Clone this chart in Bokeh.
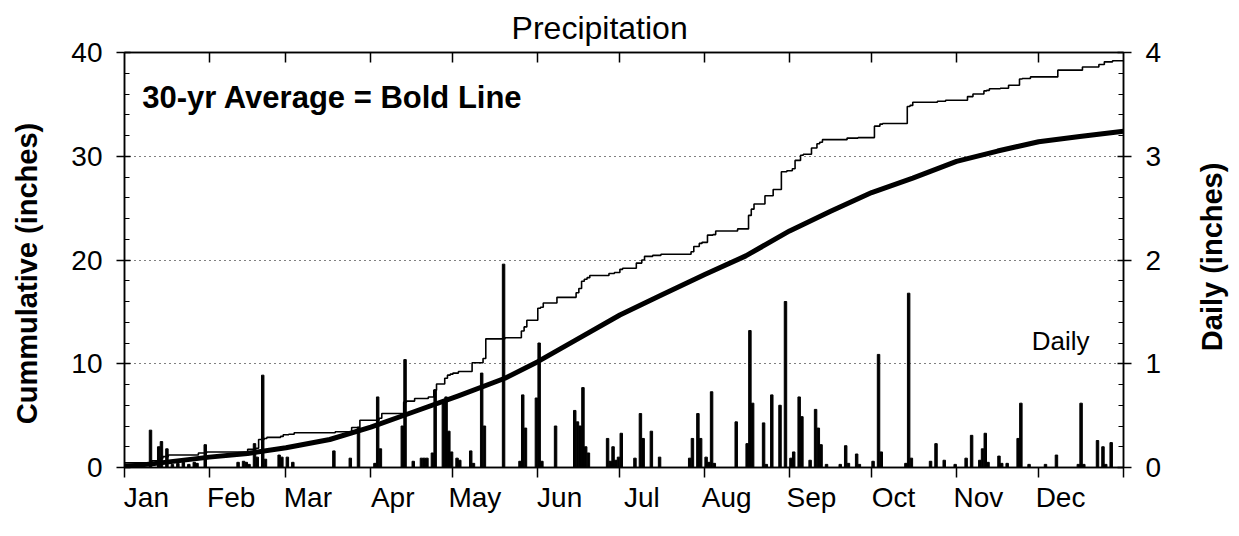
import math
from bokeh.plotting import figure
from bokeh.models import Range1d, LinearAxis, FixedTicker, Label
from bokeh.embed import file_html
from bokeh.resources import INLINE

FONT = "Liberation Sans"

# ---- data ----
months = ["Jan", "Feb", "Mar", "Apr", "May", "Jun", "Jul", "Aug", "Sep", "Oct", "Nov", "Dec"]
month_start = [0, 31, 59, 90, 120, 151, 181, 212, 243, 273, 304, 334]

# daily precipitation (day of year, inches)
daily_day = [10, 13, 14, 16, 18, 20, 22, 24, 26, 27, 30,
             42, 44, 45, 46, 48, 49, 51, 52, 57, 58,
             60, 62, 77, 83, 86,
             92, 93, 94, 102, 103, 106, 109, 110, 111, 113, 114, 117, 118, 119, 120,
             122, 123, 127, 128, 131, 132, 139, 145, 146, 147,
             151, 152, 153, 158, 165, 166, 167, 168, 169, 170, 177, 178, 179, 180,
             181, 182, 187, 189, 190, 193, 196, 207, 208, 210, 211,
             213, 214, 215, 216, 224, 228, 229, 230, 234, 235, 237, 240, 242,
             244, 245, 247, 248, 251, 253, 254, 255, 257, 262, 264, 265, 268, 269,
             274, 276, 277, 286, 287, 288, 295, 297, 300, 304,
             308, 310, 313, 314, 315, 316, 320, 321, 323, 327, 328, 331,
             337, 341, 349, 350, 351, 356, 358, 359, 361]
daily_in = [0.36, 0.20, 0.25, 0.18, 0.03, 0.04, 0.05, 0.03, 0.05, 0.04, 0.22,
            0.05, 0.06, 0.05, 0.03, 0.23, 0.10, 0.89, 0.08, 0.12, 0.10,
            0.10, 0.05, 0.16, 0.09, 0.39,
            0.04, 0.68, 0.18, 0.40, 1.04, 0.06, 0.09, 0.09, 0.09, 0.14, 0.75, 0.65, 0.68, 0.35, 0.15,
            0.09, 0.07, 0.16, 0.04, 0.91, 0.40, 1.96, 0.06, 0.70, 0.38,
            0.67, 1.20, 0.06, 0.40, 0.55, 0.44, 0.40, 0.77, 0.20, 0.14, 0.28, 0.06, 0.20, 0.07,
            0.10, 0.33, 0.09, 0.52, 0.28, 0.35, 0.10, 0.09, 0.28, 0.52, 0.28,
            0.10, 0.05, 0.73, 0.04, 0.44, 0.23, 1.32, 0.62, 0.43, 0.03, 0.70, 0.60, 1.60,
            0.09, 0.15, 0.68, 0.49, 0.07, 0.56, 0.38, 0.22, 0.03, 0.03, 0.21, 0.04, 0.13, 0.03,
            0.06, 1.09, 0.15, 0.04, 1.68, 0.09, 0.06, 0.23, 0.07, 0.03,
            0.09, 0.31, 0.07, 0.18, 0.33, 0.05, 0.11, 0.04, 0.04, 0.28, 0.62, 0.03,
            0.03, 0.12, 0.03, 0.62, 0.03, 0.26, 0.20, 0.03, 0.24]

# this year's cumulative total (thin line), read at its steps
thin_day = [0, 10, 13, 14, 16, 27, 30, 45, 48, 49, 51, 52, 57, 58, 60, 62, 77, 83, 86,
            93, 94, 102, 103, 106, 111, 113, 114, 117, 118, 119, 120, 122, 127, 131, 132,
            139, 145, 146, 147, 151, 152, 153, 158, 165, 166, 167, 168, 169, 170, 177, 179,
            181, 182, 187, 189, 190, 193, 196, 207, 208, 210, 211, 213, 215, 216, 224, 228,
            229, 230, 234, 237, 240, 242, 244, 245, 247, 248, 251, 253, 254, 255, 264, 268,
            274, 276, 277, 286, 287, 288, 297, 300, 308, 310, 314, 315, 316, 320, 323, 327,
            328, 331, 341, 350, 356, 358, 361, 365]
thin_cum = [0.1, 0.45, 0.65, 0.9, 1.05, 1.2, 1.4, 1.5, 1.75, 1.85, 2.7, 2.8, 2.9, 3.0, 3.15, 3.2, 3.35, 3.45, 3.85,
            4.55, 4.75, 5.2, 6.3, 6.4, 6.65, 6.8, 7.45, 8.05, 8.6, 8.9, 9.0, 9.1, 9.25, 10.1, 10.5,
            12.4, 12.5, 13.15, 13.55, 14.2, 15.35, 15.45, 15.85, 16.4, 16.85, 17.25, 17.95, 18.15, 18.3, 18.5, 18.7,
            18.8, 19.1, 19.2, 19.7, 20.0, 20.35, 20.45, 20.55, 20.8, 21.3, 21.6, 21.7, 22.4, 22.45, 22.8, 23.0,
            24.3, 24.9, 25.4, 26.2, 26.8, 28.5, 28.6, 28.8, 29.6, 30.1, 30.2, 30.8, 31.2, 31.35, 31.6, 31.75,
            31.8, 32.9, 33.1, 33.15, 34.8, 34.9, 35.2, 35.3, 35.4, 35.75, 36.0, 36.3, 36.35, 36.5, 36.55, 36.85,
            37.45, 37.5, 37.65, 38.3, 38.6, 38.85, 39.1, 39.2]

# 30-year average cumulative (bold line)
avg_day = [0, 10, 31, 45, 59, 75, 90, 105, 122, 139, 151, 165, 181, 196, 212, 227, 243, 258, 273, 288, 304, 319, 334, 349, 365]
avg_cum = [0.1, 0.35, 1.0, 1.35, 1.9, 2.7, 3.9, 5.3, 6.9, 8.6, 10.2, 12.3, 14.7, 16.6, 18.6, 20.4, 22.8, 24.7, 26.5, 27.9, 29.5, 30.5, 31.4, 31.9, 32.4]

# ---- figure ----
p = figure(width=1236, height=530, x_range=Range1d(0, 365), y_range=Range1d(0, 40),
           output_backend="svg", toolbar_location=None,
           min_border_left=124, min_border_right=113, min_border_top=52, min_border_bottom=63)
p.background_fill_color = "white"
p.border_fill_color = "white"
p.outline_line_color = "black"
p.outline_line_width = 1.5

p.extra_y_ranges = {"daily": Range1d(0, 4)}

# the built-in title is left empty; the chart title is a label in the top panel
p.title.text = ""
p.title.standoff = 0

# grid
p.xgrid.visible = False
p.ygrid.ticker = FixedTicker(ticks=[10, 20, 30])
p.ygrid.grid_line_color = "black"
p.ygrid.grid_line_dash = "1 4"
p.ygrid.grid_line_width = 1.2


def style_axis(ax):
    ax.major_label_text_font = FONT
    ax.major_label_text_font_size = "28px"
    ax.major_label_text_color = "black"
    ax.axis_line_color = "black"
    ax.major_tick_line_color = "black"
    ax.minor_tick_line_color = "black"
    ax.axis_line_width = 1.5
    ax.major_tick_line_width = 1.5
    ax.minor_tick_line_width = 1.2


# left axis
ya = p.yaxis[0]
ya.ticker = FixedTicker(ticks=[0, 10, 20, 30, 40], minor_ticks=list(range(0, 41, 2)))
style_axis(ya)
ya.major_label_standoff = 14
ya.major_tick_in = 6
ya.major_tick_out = 8
ya.minor_tick_in = 5
ya.minor_tick_out = 0

# right axis
ra = LinearAxis(y_range_name="daily",
                ticker=FixedTicker(ticks=[0, 1, 2, 3, 4], minor_ticks=[i / 5 for i in range(0, 21)]))
style_axis(ra)
ra.major_label_standoff = 14
ra.major_tick_in = 6
ra.major_tick_out = 8
ra.minor_tick_in = 5
ra.minor_tick_out = 0
p.add_layout(ra, "right")

# bottom axis: month boundaries as ticks, names just right of each boundary
label_pos = [s + 8 for s in month_start]
xa = p.xaxis[0]
xa.ticker = FixedTicker(ticks=label_pos, minor_ticks=month_start + [365])
xa.major_label_overrides = {lp: m for lp, m in zip(label_pos, months)}
style_axis(xa)
xa.major_label_standoff = 4
xa.major_tick_in = 0
xa.major_tick_out = 0
xa.minor_tick_in = 0
xa.minor_tick_out = 10
xa.minor_tick_line_width = 1.5

# top axis: inward month ticks, no labels
ta = LinearAxis(ticker=FixedTicker(ticks=month_start[1:]))
style_axis(ta)
ta.major_label_overrides = {s: "" for s in month_start[1:]}
ta.major_label_text_font_size = "0px"
ta.major_label_standoff = 0
ta.major_tick_in = 10
ta.major_tick_out = 0
ta.minor_tick_in = 0
ta.minor_tick_out = 0
p.add_layout(ta, "above")

# titles drawn in the side panels (so they are not clipped to the frame)
p.add_layout(Label(x=173.6, y=42.4, text="Precipitation", text_font=FONT,
                   text_font_size="32px", text_color="black",
                   text_align="center", text_baseline="alphabetic"), "above")
p.add_layout(Label(x=-35.8, y=18.7, text="Cummulative (inches)", angle=math.pi / 2,
                   text_font=FONT, text_font_size="29px", text_font_style="bold",
                   text_color="black", text_align="center", text_baseline="middle"), "left")
p.add_layout(Label(x=397.2, y=20.3, text="Daily (inches)", angle=math.pi / 2,
                   text_font=FONT, text_font_size="29px", text_font_style="bold",
                   text_color="black", text_align="center", text_baseline="middle"), "right")

# marks
p.vbar(x=[d - 0.5 for d in daily_day], top=daily_in, width=0.9, bottom=0,
       y_range_name="daily", fill_color="black", line_color="black", line_width=1)
p.step(x=thin_day, y=thin_cum, mode="before", line_color="black", line_width=1.6)
p.line(x=avg_day, y=avg_cum, line_color="black", line_width=5, line_join="round", line_cap="round")

# annotations inside the plot
p.add_layout(Label(x=6.5, y=35.7, text="30-yr Average = Bold Line", text_font=FONT,
                   text_font_size="31px", text_font_style="bold", text_color="black",
                   text_baseline="alphabetic"))
p.add_layout(Label(x=331.5, y=12.2, text="Daily", text_font=FONT,
                   text_font_size="26px", text_color="black", text_baseline="alphabetic"))

open("out.html", "w").write(file_html(p, INLINE))
